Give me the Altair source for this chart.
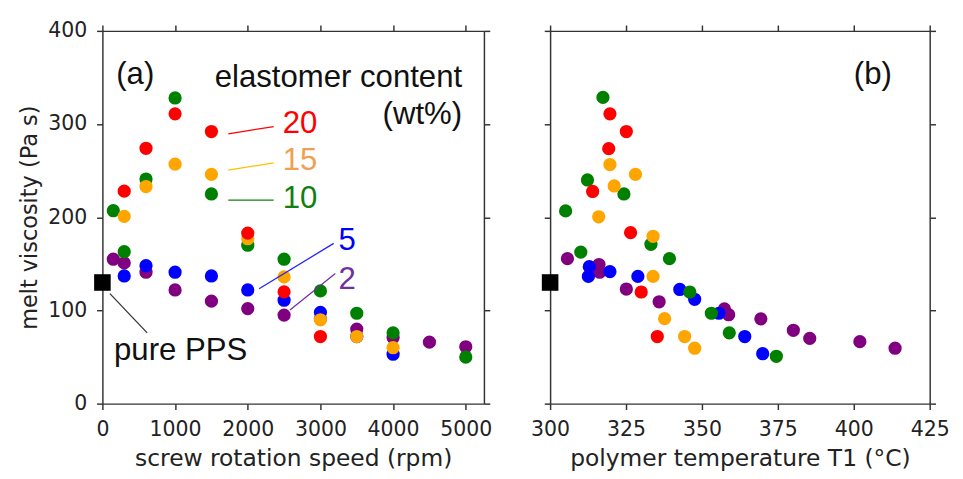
import altair as alt
import pandas as pd

# ---------------- data ----------------
contents = ["2", "5", "10", "15", "20"]          # elastomer content (wt%)
point_colors = ["#800080", "#0000ff", "#008000", "#ffa500", "#ff0000"]

# (a) screw rotation speed (rpm) vs melt viscosity (Pa s)
rpm_2 = [150, 300, 600, 1000, 1500, 2000, 2500, 3000, 3500, 4000, 4500, 5000]
vis_a_2 = [155, 151, 141, 122, 110, 102, 95, 91, 80, 71, 66, 61]
rpm_5 = [300, 600, 1000, 1500, 2000, 2500, 3000, 3500, 4000]
vis_a_5 = [137, 148, 141, 137, 122, 111, 98, 72, 53]
rpm_10 = [150, 300, 600, 1000, 1500, 2000, 2500, 3000, 3500, 4000, 5000]
vis_a_10 = [207, 163, 241, 328, 225, 170, 155, 121, 97, 76, 50]
rpm_15 = [300, 600, 1000, 1500, 2000, 2500, 3000, 3500, 4000]
vis_a_15 = [201, 233, 257, 246, 177, 136, 90, 72, 60]
rpm_20 = [300, 600, 1000, 1500, 2000, 2500, 3000]
vis_a_20 = [228, 274, 311, 292, 183, 120, 72]

# (b) polymer temperature T1 (C) vs melt viscosity (Pa s)
t1_2 = [305.7, 316.1, 316.3, 325.1, 335.9, 357.4, 358.8, 369.4, 380.1, 385.5, 402.0, 413.6]
vis_b_2 = [155.6, 149.3, 141, 123, 109.3, 101.6, 95.4, 91, 78.7, 70, 66.5, 59.5]
t1_5 = [312.9, 312.6, 319.7, 328.9, 342.7, 347.6, 355.6, 364.1, 370.0]
vis_b_5 = [147, 136.5, 141.7, 136.5, 122.5, 112, 97, 72, 53.6]
t1_10 = [305.1, 310.1, 312.3, 317.4, 324.3, 333.2, 339.3, 346.0, 353.1, 359.0, 374.5]
vis_b_10 = [206.8, 162.6, 240, 328.6, 225, 171, 155.6, 119.8, 97, 76, 50.8]
t1_15 = [316.0, 321.1, 319.7, 328.1, 333.9, 333.9, 337.7, 344.3, 347.6]
vis_b_15 = [200.5, 233.6, 256.6, 246, 179.6, 136.5, 91.2, 72, 59.5]
t1_20 = [314.0, 319.3, 319.7, 325.1, 326.5, 330.0, 335.3]
vis_b_20 = [227.7, 273.6, 311, 292, 183.5, 119.8, 72]

# pure PPS reference
pps_rpm = [0]
pps_t1 = [300]
pps_vis = [130]

# annotations of panel (a): labels and leader lines
lab_text = ["(a)", "20", "15", "10", "5", "2", "pure PPS"]
lab_x = [190, 2480, 2480, 2480, 3250, 3250, 160]
lab_y = [343, 290, 251, 210, 165, 123, 47]
lab_group = ["k", "20", "15", "10", "5", "2", "k"]

head_text = ["elastomer content", "(wt%)"]
head_x = [4950, 4950]
head_y = [340, 300]

lead_x = [1732, 1732, 1732, 2156, 2581, 103]
lead_y = [289.6, 250.6, 218.3, 123.2, 100.6, 118]
lead_x2 = [2357, 2357, 2357, 3183, 3205, 616]
lead_y2 = [297.3, 258.3, 218.3, 172, 139.6, 76]
lead_group = ["20", "15", "10", "5", "2", "k"]

lab_groups = ["k", "20", "15", "10", "5", "2"]
text_colors = ["#111111", "#ff0000", "#f0a050", "#108010", "#0000ff", "#7030a0"]
line_colors = ["#333333", "#ff0000", "#ffc000", "#108010", "#2020ff", "#7030a0"]

# panel (b) label
b_text = ["(b)"]
b_x = [400]
b_y = [343]

# ---------------- tables ----------------
def build(xs, ys):
    rows = []
    for c, xv, yv in zip(contents, xs, ys):
        for a, b in zip(xv, yv):
            rows.append({"x": a, "vis": b, "content": c})
    return pd.DataFrame(rows)

df_a = build([rpm_2, rpm_5, rpm_10, rpm_15, rpm_20],
             [vis_a_2, vis_a_5, vis_a_10, vis_a_15, vis_a_20])
df_b = build([t1_2, t1_5, t1_10, t1_15, t1_20],
             [vis_b_2, vis_b_5, vis_b_10, vis_b_15, vis_b_20])
df_pps_a = pd.DataFrame({"x": pps_rpm, "vis": pps_vis})
df_pps_b = pd.DataFrame({"x": pps_t1, "vis": pps_vis})
df_lab = pd.DataFrame({"x": lab_x, "vis": lab_y, "text": lab_text, "g": lab_group})
df_head = pd.DataFrame({"x": head_x, "vis": head_y, "text": head_text})
df_lead = pd.DataFrame({"x": lead_x, "vis": lead_y, "x2": lead_x2, "vis2": lead_y2, "g": lead_group})
df_b_lab = pd.DataFrame({"x": b_x, "vis": b_y, "text": b_text})

Y_TICKS = [0, 100, 200, 300, 400]
A_TICKS = [0, 1000, 2000, 3000, 4000, 5000]
B_TICKS = [300, 325, 350, 375, 400, 425]
ANN_FONT = "Liberation Sans"
ANN_SIZE = 32

yscale = alt.Scale(domain=[0, 400], nice=False, zero=False)
color_pts = alt.Color("content:N", scale=alt.Scale(domain=contents, range=point_colors), legend=None)


def panel(df, df_pps, xdomain, xticks, xtitle, show_ylabels):
    xscale = alt.Scale(domain=xdomain, nice=False, zero=False)
    pts = alt.Chart(df).mark_circle(size=185, opacity=1).encode(
        x=alt.X("x:Q", scale=xscale,
                axis=alt.Axis(orient="bottom", values=xticks, format="d", title=xtitle,
                              labelFlush=False, labelOverlap=False)),
        y=alt.Y("vis:Q", scale=yscale,
                axis=alt.Axis(orient="left", values=Y_TICKS, labels=show_ylabels,
                              labelFlush=False, labelOverlap=False,
                              title="melt viscosity (Pa s)" if show_ylabels else None)),
        color=color_pts,
    )
    frame = alt.Chart(df).mark_point(opacity=0).encode(
        x=alt.X("x:Q", scale=xscale,
                axis=alt.Axis(orient="top", values=xticks, labels=False, title=None)),
        y=alt.Y("vis:Q", scale=yscale,
                axis=alt.Axis(orient="right", values=Y_TICKS, labels=False, title=None)),
    )
    sq = alt.Chart(df_pps).mark_square(size=290, color="black", opacity=1).encode(
        x=alt.X("x:Q", scale=xscale, axis=None), y=alt.Y("vis:Q", scale=yscale, axis=None))
    return pts, frame, sq, xscale


pts_a, frame_a, sq_a, xs_a = panel(df_a, df_pps_a, [0, 5250], A_TICKS,
                                   "screw rotation speed (rpm)", True)
pts_b, frame_b, sq_b, xs_b = panel(df_b, df_pps_b, [300, 425], B_TICKS,
                                   "polymer temperature T1 (°C)", False)

leads = alt.Chart(df_lead).mark_rule(strokeWidth=1.3).encode(
    x=alt.X("x:Q", scale=xs_a, axis=None), y=alt.Y("vis:Q", scale=yscale, axis=None),
    x2="x2:Q", y2="vis2:Q",
    color=alt.Color("g:N", scale=alt.Scale(domain=lab_groups, range=line_colors), legend=None),
)
labels = alt.Chart(df_lab).mark_text(
    align="left", baseline="alphabetic", font=ANN_FONT, fontSize=ANN_SIZE).encode(
    x=alt.X("x:Q", scale=xs_a, axis=None), y=alt.Y("vis:Q", scale=yscale, axis=None), text="text:N",
    color=alt.Color("g:N", scale=alt.Scale(domain=lab_groups, range=text_colors), legend=None),
)
heads = alt.Chart(df_head).mark_text(
    align="right", baseline="alphabetic", font=ANN_FONT, fontSize=ANN_SIZE, color="#111111").encode(
    x=alt.X("x:Q", scale=xs_a, axis=None), y=alt.Y("vis:Q", scale=yscale, axis=None), text="text:N")
b_label = alt.Chart(df_b_lab).mark_text(
    align="left", baseline="alphabetic", font=ANN_FONT, fontSize=ANN_SIZE, color="#111111").encode(
    x=alt.X("x:Q", scale=xs_b, axis=None), y=alt.Y("vis:Q", scale=yscale, axis=None), text="text:N")

left = alt.layer(pts_a, frame_a, leads, sq_a, labels, heads).resolve_axis(
    x="independent", y="independent").resolve_scale(color="independent").properties(
    width=392, height=383)
right = alt.layer(pts_b, frame_b, sq_b, b_label).resolve_axis(
    x="independent", y="independent").properties(width=390, height=383)

chart = alt.hconcat(left, right, spacing=38).properties(
    padding={"left": 10, "top": 6, "right": 5, "bottom": 5}
).configure_view(stroke=None).configure_axis(
    grid=False,
    labelFont="DejaVu Sans", labelFontSize=21, labelColor="#222222",
    titleFont="DejaVu Sans", titleFontWeight="normal", titleColor="#222222",
    domainColor="#333333", domainWidth=1.5, tickColor="#333333", tickWidth=1.5, tickSize=6,
).configure_axisX(titlePadding=8, labelPadding=10, titleFontSize=24
).configure_axisY(titlePadding=7, labelPadding=10, titleFontSize=23)

chart.save("out.html", embed_options={"renderer": "svg", "actions": False})
